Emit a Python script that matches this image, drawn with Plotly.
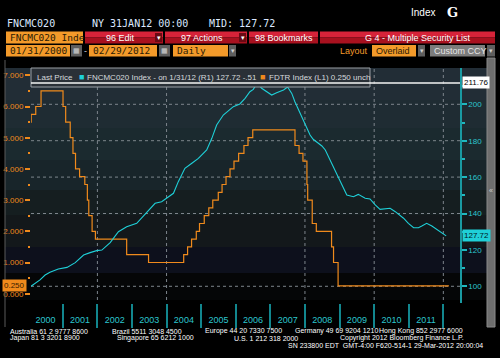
import plotly.graph_objects as go

# ---------------- data ----------------
fn_dates = ['2000-01-31', '2000-05-05', '2000-06-28', '2000-08-18', '2000-11-14',
            '2001-02-14', '2001-05-12', '2001-08-08', '2001-10-16', '2001-12-24',
            '2002-02-17', '2002-05-16', '2002-08-11', '2002-11-06', '2003-02-20',
            '2003-06-07', '2003-09-02', '2003-11-10', '2004-01-01', '2004-03-14',
            '2004-05-04', '2004-07-13', '2004-09-24', '2004-12-02', '2005-02-28',
            '2005-04-23', '2005-06-13', '2005-08-22', '2005-12-06', '2006-02-13',
            '2006-04-09', '2006-05-30', '2006-07-05', '2006-08-15', '2006-10-01',
            '2006-11-24', '2007-01-15', '2007-03-08', '2007-05-20', '2007-07-02',
            '2007-08-15', '2007-09-17', '2007-11-10', '2008-01-01', '2008-02-24',
            '2008-03-28', '2008-06-28', '2008-08-03', '2008-10-08', '2009-01-05',
            '2009-03-18', '2009-05-27', '2009-07-17', '2009-09-28', '2009-11-18',
            '2010-01-12', '2010-03-04', '2010-06-18', '2010-08-12', '2010-11-07',
            '2010-12-28', '2011-02-21', '2011-04-13', '2011-05-19', '2011-07-09',
            '2011-09-02', '2011-10-23', '2012-01-31']
fn_values = [100.0, 103.5, 106.2, 107.7, 109.5,
             110.4, 113.0, 117.2, 118.5, 119.6,
             119.9, 124.0, 130.0, 132.7, 134.6,
             141.0, 145.6, 146.5, 148.4, 151.1,
             157.5, 164.8, 167.6, 170.3, 174.9,
             181.3, 188.6, 194.1, 198.7, 200.2,
             203.3, 206.9, 208.2, 211.76, 208.8,
             206.9, 205.1, 206.4, 207.9, 209.5,
             206.0, 201.4, 195.0, 188.6, 183.1,
             180.8, 177.1, 174.9, 167.6, 158.4,
             150.2, 149.2, 150.5, 148.4, 148.0,
             144.7, 142.3, 142.9, 141.0, 137.4,
             134.6, 132.2, 132.2, 133.1, 134.6,
             133.1, 131.3, 127.72]

fd_dates = ['2000-01-31', '2000-02-02', '2000-03-21', '2000-05-16', '2001-01-03',
            '2001-01-31', '2001-03-20', '2001-04-18', '2001-05-15', '2001-06-27',
            '2001-08-21', '2001-09-17', '2001-10-02', '2001-11-06', '2001-12-11',
            '2002-11-06', '2003-06-25', '2004-06-30', '2004-08-10', '2004-09-21',
            '2004-11-10', '2004-12-14', '2005-02-02', '2005-03-22', '2005-05-03',
            '2005-06-30', '2005-08-09', '2005-09-20', '2005-11-01', '2005-12-13',
            '2006-01-31', '2006-03-28', '2006-05-10', '2006-06-29', '2007-09-18',
            '2007-10-31', '2007-12-11', '2008-01-22', '2008-01-30', '2008-03-18',
            '2008-04-30', '2008-10-08', '2008-10-29', '2008-12-16', '2012-02-29']
fd_values = [5.50, 5.75, 6.00, 6.50, 6.00,
             5.50, 5.00, 4.50, 4.00, 3.75,
             3.50, 3.00, 2.50, 2.00, 1.75,
             1.25, 1.00, 1.25, 1.50, 1.75,
             2.00, 2.25, 2.50, 2.75, 3.00,
             3.25, 3.50, 3.75, 4.00, 4.25,
             4.50, 4.75, 5.00, 5.25, 4.75,
             4.50, 4.25, 3.50, 3.00, 2.25,
             2.00, 1.50, 1.00, 0.25, 0.25]

grid_years = ['2002-01-01', '2004-01-01', '2008-01-01', '2010-01-01', '2012-01-01']
grid_right = [100, 140, 160, 180, 200]

fn_legend = 'FNCMC020 Index - on 1/31/12 (R1) 127.72 -.51'
fd_legend = 'FDTR Index (L1) 0.250 unch'

# ---------------- geometry helpers ----------------
W, H = 500, 358
L, R, T, B = 31, 460, 68, 303
Y2_RANGE = [90.82, 219.95]


def X(p):
    return (p - L) / (R - L)


def Y(p):
    return (B - p) / (B - T)


CYAN = '#1fd0d8'
ORANGE = '#f08a1c'
TEAL_TXT = '#2cc6ce'
MONO = 'DejaVu Sans Mono'
SANS = 'Liberation Sans'

fig = go.Figure()
fig.add_trace(go.Scatter(x=fd_dates, y=fd_values, mode='lines', yaxis='y',
                         line=dict(color=ORANGE, width=1.2, shape='hv'),
                         name='FDTR Index', hoverinfo='skip'))
fig.add_trace(go.Scatter(x=fn_dates, y=fn_values, mode='lines', yaxis='y2',
                         line=dict(color=CYAN, width=1.1),
                         name='FNCMC020 Index', hoverinfo='skip'))

shapes = []
annos = []


def rect(x0, y0, x1, y1, fill, layer='above', lc=None, lw=0):
    shapes.append(dict(type='rect', xref='paper', yref='paper',
                       x0=X(x0), x1=X(x1), y0=Y(y1), y1=Y(y0),
                       fillcolor=fill, layer=layer,
                       line=dict(color=lc or fill, width=lw)))


def text(px, py, s, color='white', size=9, family=SANS, anchor='left', bg=None, **kw):
    d = dict(xref='paper', yref='paper', x=X(px), y=Y(py), text=s, showarrow=False,
             xanchor=anchor, yanchor='middle', font=dict(color=color, size=size, family=family))
    if bg:
        d['bgcolor'] = bg
    d.update(kw)
    annos.append(d)


# background bands of chart window
bands = [(68, 100, '#222d36'), (100, 128, '#1f2c33'), (128, 160, '#1b2a2f'),
         (160, 190, '#18252a'), (190, 215, '#151e20'), (215, 247, '#13181b'),
         (247, 273, '#0d101c'), (273, 300, '#050607')]
for y0, y1, c in bands:
    rect(5, y0, 487, y1, c, layer='below')

# vertical dotted grid
for g in grid_years:
    shapes.append(dict(type='line', xref='x', yref='paper', x0=g, x1=g, y0=Y(300), y1=1,
                       layer='below', line=dict(color='#7d858c', width=1, dash='dot')))
# horizontal dotted grid (right scale)
for g in grid_right:
    shapes.append(dict(type='line', xref='paper', yref='y2', x0=0, x1=1, y0=g, y1=g,
                       layer='below', line=dict(color='#7d858c', width=1, dash='dot')))

# left frame line and right scrollbar
rect(4.5, 60, 5.5, 327, '#5a5a5a', layer='above')
rect(487, 58, 495, 327, '#6e6e6e', layer='above', lc='#8a8a8a', lw=1)
text(491, 190, '«', color='#cfcfcf', size=7, family=SANS, anchor='center')

# legend box
rect(31, 68, 370, 87, '#2a3037', layer='above', lc='#9aa0a6', lw=1)
hi = max(fn_values)
shapes.append(dict(type='line', xref='paper', yref='y2', x0=0, x1=1, y0=hi, y1=hi,
                   layer='above', line=dict(color='#f4f4f4', width=1.5)))
text(35, 77, 'Last Price', color='#d6dadd', size=8)
text(77, 77, '■', color=CYAN, size=9)
text(85, 77, fn_legend, color='#d6dadd', size=8)
text(258, 77, '■', color=ORANGE, size=9)
text(267, 77, fd_legend, color='#d6dadd', size=8)

# value tags
annos.append(dict(xref='paper', yref='y2', x=1, y=hi, xanchor='left', xshift=2, yanchor='middle',
                  text='%.2f' % hi, showarrow=False, bgcolor='#ffffff', borderpad=1,
                  font=dict(color='#000000', size=8, family=SANS)))
annos.append(dict(xref='paper', yref='y2', x=1, y=fn_values[-1], xanchor='left', xshift=2,
                  yanchor='middle', text='%.2f' % fn_values[-1], showarrow=False, bgcolor=CYAN,
                  borderpad=1, font=dict(color='#002024', size=8, family=SANS)))
annos.append(dict(xref='paper', yref='y', x=0, y=fd_values[-1], xanchor='right', xshift=-4,
                  yanchor='middle', text='%.3f' % fd_values[-1], showarrow=False, bgcolor=ORANGE,
                  borderpad=1, font=dict(color='#3a2000', size=8, family=SANS)))

# ---------------- header ----------------
text(5, 24, 'FNCMC020', color='#dce8ff', size=10, family=MONO)
text(90, 24, 'NY 31JAN12 00:00', color='#dce8ff', size=10, family=MONO)
text(207, 24, 'MID: 127.72', color='#dce8ff', size=10, family=MONO)
text(409, 12, 'Index', color='#ffffff', size=10, family=SANS)
text(445, 12, '<b>G</b>', color='#ffffff', size=13, family='DejaVu Serif')

# row 2
rect(6, 31.5, 83, 43.5, '#f39a2a')
text(8, 37.5, 'FNCMC020 Inde', color='#2a1a05', size=9.5, family=MONO)


def red_button(x0, x1, label, arrow=True, cx=None):
    rect(x0, 31.5, x1, 37.5, '#d62339')
    rect(x0, 37.5, x1, 43.5, '#a8111f')
    if arrow:
        rect(x1 - 8, 33, x1 - 1, 42, '#6a0a14')
        text(x1 - 4.5, 37.5, '▾', color='#ffffff', size=7, anchor='center')
    text(cx if cx else (x0 + x1 - (8 if arrow else 0)) / 2, 37.5, label,
         color='#ffffff', size=9, family=SANS, anchor='center')


red_button(85, 163, '96 Edit')
red_button(165, 247, '97 Actions')
red_button(249, 318, '98 Bookmarks', arrow=False)
red_button(320, 495, 'G 4 - Multiple Security List', arrow=False, cx=418)

# row 3
rect(6, 45, 70, 56.5, '#f39a2a')
text(8, 50.8, '01/31/2000', color='#2a1a05', size=9.5, family=MONO)
rect(71, 45, 82, 56.5, '#5e5e5e')
text(76.5, 50.8, '▦', color='#d0d0d0', size=7, anchor='center')
text(85.5, 50.8, '-', color='#d0d0d0', size=9, anchor='center')
rect(89, 45, 157, 56.5, '#f39a2a')
text(91, 50.8, '02/29/2012', color='#2a1a05', size=9.5, family=MONO)
rect(159, 45, 170, 56.5, '#5e5e5e')
text(164.5, 50.8, '▦', color='#d0d0d0', size=7, anchor='center')
rect(173, 45, 228, 56.5, '#f39a2a')
text(175, 50.8, 'Daily', color='#2a1a05', size=9.5, family=MONO)
rect(229, 45, 236, 56.5, '#5e5e5e')
text(232.5, 50.8, '▾', color='#d0d0d0', size=7, anchor='center')
text(370, 50.8, 'Layout', color='#f39a2a', size=9, anchor='right')
rect(372, 45, 416, 56.5, '#f39a2a')
text(374, 50.8, 'Overlaid', color='#2a1a05', size=9, family=SANS)
rect(418, 45, 425, 56.5, '#5e5e5e')
text(421.5, 50.8, '▾', color='#d0d0d0', size=7, anchor='center')
rect(430, 45, 485, 56.5, '#7c7c7c')
text(432, 50.8, 'Custom CCY', color='#e6e6e6', size=9, family=SANS)
rect(487, 45, 495, 56.5, '#5e5e5e')
text(491, 50.8, '▾', color='#d0d0d0', size=7, anchor='center')

# ---------------- footer ----------------
FS = 7
text(8, 331, 'Australia 61 2 9777 8600', size=FS)
text(110, 331, 'Brazil 5511 3048 4500', size=FS)
text(203, 331, 'Europe 44 20 7330 7500', size=FS)
text(293, 331, 'Germany 49 69 9204 1210', size=FS)
text(377, 331, 'Hong Kong 852 2977 6000', size=FS)
text(8, 338, 'Japan 81 3 3201 8900', size=FS)
text(115, 338, 'Singapore 65 6212 1000', size=FS)
text(232, 338, 'U.S. 1 212 318 2000', size=FS)
text(338, 338, 'Copyright 2012 Bloomberg Finance L.P.', size=FS)
text(485, 345, 'SN 233800 EDT  GMT-4:00 F620-514-1 29-Mar-2012 20:00:04', size=FS, anchor='right')

fig.update_layout(
    template='none',
    width=W, height=H,
    margin=dict(l=L, r=W - R, t=T, b=H - B, pad=0, autoexpand=False),
    paper_bgcolor='#000000', plot_bgcolor='rgba(0,0,0,0)',
    showlegend=False,
    shapes=shapes, annotations=annos,
    xaxis=dict(type='date', range=['2000-01-31', '2012-06-25'], tick0='2000-01-01', dtick='M12',
               tickformat='%Y', ticklabelmode='period', ticks='outside', ticklen=24, tickwidth=2,
               tickcolor='#12868e', tickfont=dict(color=TEAL_TXT, size=9, family=SANS),
               ticklabelstandoff=-16, showgrid=False, zeroline=False, showline=False),
    yaxis=dict(range=[-0.298, 7.234], tick0=0, dtick=1, tickformat='.3f', ticks='outside',
               ticklen=5, tickwidth=2, tickcolor=ORANGE,
               tickfont=dict(color=ORANGE, size=8, family=SANS),
               showgrid=False, zeroline=False, showline=False,
               minor=dict(dtick=0.5, tick0=0, ticks='outside', ticklen=2, tickcolor=ORANGE)),
    yaxis2=dict(overlaying='y', side='right', range=Y2_RANGE, tick0=100, dtick=20,
                ticks='outside', ticklen=5, tickwidth=2, tickcolor='#1fb8c0',
                tickfont=dict(color=TEAL_TXT, size=8, family=SANS),
                showline=True, linecolor='#1a9aa2', linewidth=1.5,
                showgrid=False, zeroline=False,
                minor=dict(dtick=10, tick0=0, ticks='outside', ticklen=3, tickcolor='#1fb8c0')),
)

fig.write_html('out.html', config={'displayModeBar': False},
               post_script="document.body.style.margin='0';document.body.style.overflow='hidden';")
